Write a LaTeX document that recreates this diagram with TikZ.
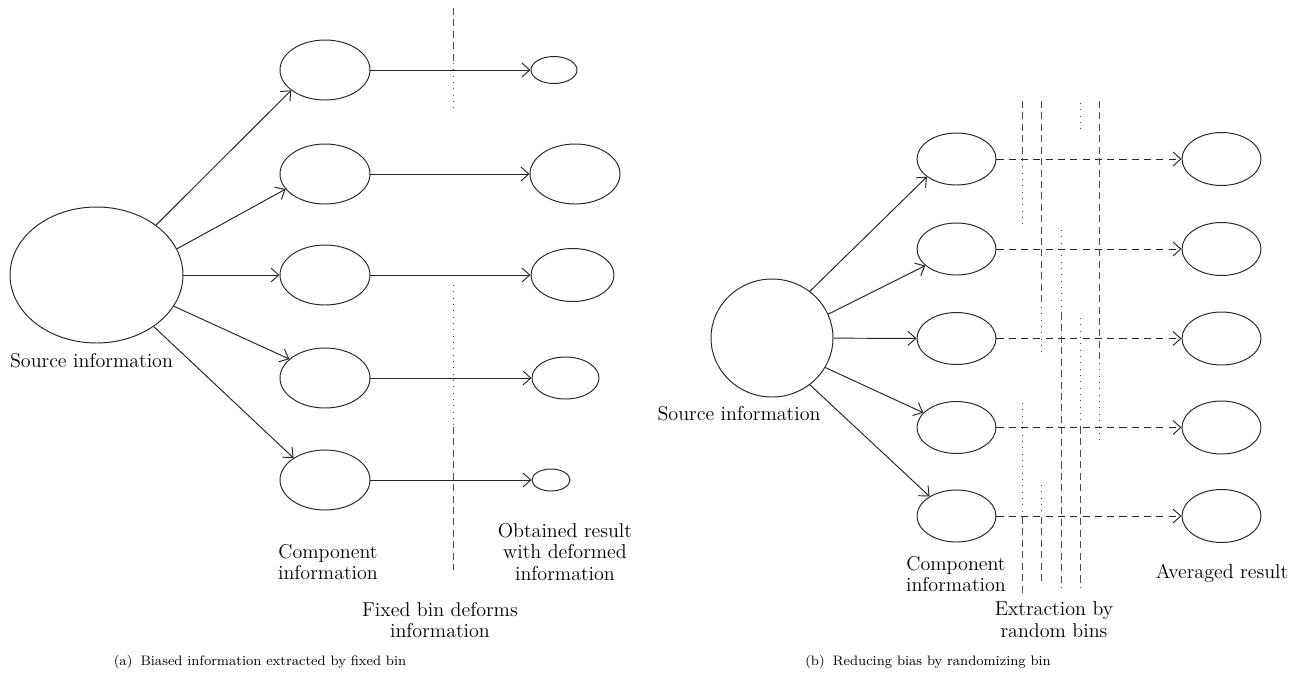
\documentclass[tikz,border=0pt]{standalone}
\usetikzlibrary{shapes.geometric,arrows.meta}
\begin{document}
\begin{tikzpicture}[x=0.02cm,y=-0.02cm,
  bubble/.style 2 args={ellipse,draw=black!85,line width=0.55pt,inner sep=0pt,minimum width=#1,minimum height=#2},
  link/.style={draw=black!85,line width=0.55pt,-{Straight Barb[length=4.5pt,width=8pt]}},
  randlink/.style={link,dash pattern=on 4pt off 3pt},
  bindash/.style={draw=black!70,line width=0.55pt,dash pattern=on 4pt off 2.5pt},
  bindot/.style={draw=black!70,line width=0.55pt,dash pattern=on 0.6pt off 3pt},
  lab/.style={align=center,inner sep=0pt,font=\fontsize{11.4}{12.4}\selectfont},
  captext/.style={inner sep=0pt,font=\fontsize{7.8}{9.5}\selectfont}]

\useasboundingbox (0,0) rectangle (1301,684);

% (a) fixed bin
\node[bubble={3.46cm}{2.72cm}] (lsrc) at (96.5,275) {};
\node[bubble={1.8cm}{1.2cm}] (lc1) at (325,70) {};
\node[bubble={1.8cm}{1.2cm}] (lc2) at (325,174) {};
\node[bubble={1.8cm}{1.2cm}] (lc3) at (325,275) {};
\node[bubble={1.8cm}{1.2cm}] (lc4) at (325,378) {};
\node[bubble={1.8cm}{1.2cm}] (lc5) at (325,480) {};

\node[bubble={0.92cm}{0.54cm}] (lr1) at (554,70) {};
\node[bubble={1.8cm}{1.2cm}] (lr2) at (575,174) {};
\node[bubble={1.66cm}{1.06cm}] (lr3) at (572.5,275) {};
\node[bubble={1.34cm}{0.84cm}] (lr4) at (565.5,378) {};
\node[bubble={0.76cm}{0.44cm}] (lr5) at (551,480) {};

\draw[link] (lsrc.40) -- (lc1.211);
\draw[link] (lsrc.18) -- (lc2.201);
\draw[link] (lsrc) -- (lc3);
\draw[link] (lsrc.-22) -- (lc4.152);
\draw[link] (lsrc.-42) -- (lc5.145);

\draw[link] (lc1) -- (lr1);
\draw[link] (lc2) -- (lr2);
\draw[link] (lc3) -- (lr3);
\draw[link] (lc4) -- (lr4);
\draw[link] (lc5) -- (lr5);

% the fixed bin
\draw[bindash] (453,8) -- (453,63);
\draw[bindot] (453,63) -- (453,110);
\draw[bindot] (453,285) -- (453,427);
\draw[bindash] (453,427) -- (453,570);

\node[lab] (lsrctxt) at (91.5,361) {Source information};
\node[lab] (lcomptxt) at (328,562) {Component\\information};
\node[lab] (lrestxt) at (565,552) {Obtained result\\with deformed\\information};
\node[lab] (lbintxt) at (440,620) {Fixed bin deforms\\information};
\node[captext] (capa) at (260,662) {(a)\hspace{0.6em}Biased information extracted by fixed bin};

% (b) random bins
\node[bubble={2.44cm}{2.36cm}] (rsrc) at (772,338) {};
\node[bubble={1.58cm}{1.04cm}] (rc1) at (956.5,159) {};
\node[bubble={1.58cm}{1.04cm}] (rc2) at (956.5,249) {};
\node[bubble={1.58cm}{1.04cm}] (rc3) at (956.5,338.5) {};
\node[bubble={1.58cm}{1.04cm}] (rc4) at (956.5,427.5) {};
\node[bubble={1.58cm}{1.04cm}] (rc5) at (956.5,516) {};

\node[bubble={1.58cm}{1.06cm}] (rr1) at (1221.5,159) {};
\node[bubble={1.58cm}{1.06cm}] (rr2) at (1221.5,249) {};
\node[bubble={1.58cm}{1.06cm}] (rr3) at (1221.5,338.5) {};
\node[bubble={1.58cm}{1.06cm}] (rr4) at (1221.5,427.5) {};
\node[bubble={1.58cm}{1.06cm}] (rr5) at (1221.5,516) {};

\draw[link] (rsrc.51) -- (rc1.211);
\draw[link] (rsrc.23) -- (rc2.208);
\draw[link] (rsrc) -- (rc3);
\draw[link] (rsrc.-29) -- (rc4.156);
\draw[link] (rsrc.-51) -- (rc5.144);

\draw[randlink] (rc1) -- (rr1);
\draw[randlink] (rc2) -- (rr2);
\draw[randlink] (rc3) -- (rr3);
\draw[randlink] (rc4) -- (rr4);
\draw[randlink] (rc5) -- (rr5);

% the random bins
\foreach \x/\ya/\yb in {1022/101/160,1022/517/593,1041/101/307,1041/517/583,
    1061/313/588,1080/427/588,1099/101/363}
  \draw[bindash] (\x,\ya) -- (\x,\yb);
\foreach \x/\ya/\yb in {1022/160/227,1022/403/517,1041/307/357,1041/485/517,
    1061/230/313,1080/103/132,1080/318/427,1099/363/443}
  \draw[bindot] (\x,\ya) -- (\x,\yb);

\node[lab] (rsrctxt) at (739,414) {Source information};
\node[lab] (rcomptxt) at (956,574) {Component\\information};
\node[lab] (rbintxt) at (1054,620) {Extraction by\\random bins};
\node[lab] (ravgtxt) at (1222,573) {Averaged result};
\node[captext] (capb) at (928,662) {(b)\hspace{0.6em}Reducing bias by randomizing bin};

\end{tikzpicture}
\end{document}
